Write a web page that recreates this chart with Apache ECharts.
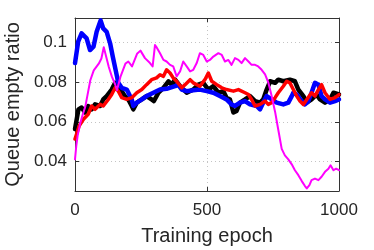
<!DOCTYPE html>
<html>
<head>
<meta charset="utf-8">
<script src="https://cdn.jsdelivr.net/npm/echarts@6/dist/echarts.min.js"></script>
<style>html,body{margin:0;padding:0;background:#fff}#c{width:374px;height:250px}</style>
</head>
<body>
<div id="c"></div>
<script>
// ---- data ----
const xTickLabels = [0, 500, 1000];
const yTickLabels = [0.04, 0.06, 0.08, 0.1];

const blackEpochs = [0,13,25,38,50,63,76,95,107,120,139,152,164,177,189,202,215,221,234,253,271,290,299,316,335,354,366,379,398,423,448,467,486,505,524,543,562,574,587,600,612,625,644,663,682,701,713,726,739,758,770,789,814,833,846,865,878,896,915,928,947,966,979,1000];
const blackValues = [0.0563,0.0663,0.0672,0.0647,0.0680,0.0663,0.0688,0.0680,0.0713,0.0730,0.0763,0.0797,0.0780,0.0755,0.0730,0.0713,0.0680,0.0663,0.0697,0.0713,0.0730,0.0713,0.0705,0.0747,0.0772,0.0805,0.0788,0.0813,0.0780,0.0747,0.0763,0.0788,0.0797,0.0763,0.0780,0.0747,0.0755,0.0722,0.0713,0.0647,0.0655,0.0697,0.0713,0.0730,0.0705,0.0697,0.0713,0.0763,0.0805,0.0797,0.0813,0.0805,0.0813,0.0805,0.0763,0.0730,0.0697,0.0713,0.0738,0.0713,0.0697,0.0713,0.0747,0.0738];

const blueEpochs = [0,12,25,44,57,70,82,97,107,120,133,143,155,164,177,196,215,221,234,253,271,297,322,347,379,391,404,423,448,473,499,524,549,574,593,606,625,644,663,688,701,713,726,745,764,789,808,821,827,840,859,871,884,896,909,922,934,947,966,985,1000];
const blueValues = [0.0897,0.1005,0.1047,0.1022,0.0963,0.0980,0.1055,0.1113,0.1072,0.1055,0.0997,0.0930,0.0855,0.0797,0.0772,0.0763,0.0713,0.0680,0.0697,0.0713,0.0730,0.0747,0.0763,0.0767,0.0780,0.0788,0.0763,0.0755,0.0760,0.0763,0.0755,0.0747,0.0730,0.0713,0.0688,0.0680,0.0697,0.0705,0.0688,0.0680,0.0663,0.0697,0.0730,0.0713,0.0697,0.0688,0.0697,0.0730,0.0747,0.0738,0.0705,0.0688,0.0705,0.0747,0.0797,0.0788,0.0730,0.0713,0.0697,0.0705,0.0713];

const redEpochs = [0,16,32,50,63,76,95,107,126,139,152,164,177,196,215,234,253,271,290,309,322,335,347,360,372,385,404,417,436,448,473,492,505,518,537,556,574,600,619,644,657,669,682,701,720,732,745,758,770,789,802,814,827,840,852,865,878,896,909,922,934,947,966,985,1000];
const redValues = [0.0513,0.0580,0.0613,0.0638,0.0680,0.0663,0.0688,0.0680,0.0713,0.0738,0.0772,0.0755,0.0722,0.0713,0.0722,0.0747,0.0763,0.0788,0.0813,0.0822,0.0838,0.0830,0.0863,0.0847,0.0822,0.0805,0.0772,0.0788,0.0813,0.0797,0.0780,0.0813,0.0847,0.0805,0.0788,0.0772,0.0763,0.0755,0.0763,0.0747,0.0738,0.0713,0.0680,0.0688,0.0705,0.0688,0.0697,0.0722,0.0747,0.0780,0.0805,0.0797,0.0763,0.0730,0.0705,0.0688,0.0713,0.0747,0.0730,0.0763,0.0788,0.0747,0.0713,0.0722,0.0738];

const magentaEpochs = [0,5,10,20,30,39,48,58,71,90,100,109,115,128,140,152,159,172,191,202,216,235,248,265,284,294,303,310,322,335,347,360,372,385,398,410,423,436,448,461,473,486,499,511,524,543,556,568,581,593,606,619,631,644,657,669,682,694,707,720,732,745,758,770,783,795,808,821,833,846,859,871,878,888,896,909,922,934,947,960,968,979,989,1000];
const magentaValues = [0.0410,0.0480,0.0530,0.0594,0.0640,0.0677,0.0740,0.0810,0.0860,0.0894,0.0920,0.0977,0.0985,0.0877,0.0827,0.0790,0.0760,0.0827,0.0894,0.0905,0.0880,0.0944,0.0960,0.0922,0.0897,0.0880,0.0988,0.0975,0.0947,0.0913,0.0905,0.0888,0.0880,0.0830,0.0855,0.0905,0.0880,0.0855,0.0863,0.0897,0.0947,0.0938,0.0905,0.0913,0.0930,0.0947,0.0938,0.0905,0.0913,0.0888,0.0922,0.0913,0.0897,0.0922,0.0905,0.0888,0.0888,0.0880,0.0863,0.0840,0.0800,0.0730,0.0650,0.0560,0.0463,0.0430,0.0410,0.0385,0.0355,0.0330,0.0300,0.0275,0.0263,0.0280,0.0305,0.0313,0.0305,0.0322,0.0347,0.0363,0.0380,0.0355,0.0363,0.0355];

function zip(xs, ys) { return xs.map((x, i) => [x, ys[i]]); }

const axisColor = '#333';
const textColor = '#262626';
const font = 'Liberation Sans, Arial, Helvetica, sans-serif';

const chart = echarts.init(document.getElementById('c'), null, { renderer: 'canvas' });

function lineSeries(name, xs, ys, color, width) {
  return {
    name, type: 'line', data: zip(xs, ys), showSymbol: false, symbol: 'none',
    smooth: false, animation: false,
    lineStyle: { color, width, cap: 'round', join: 'round' },
    clip: true
  };
}

chart.setOption({
  animation: false,
  backgroundColor: '#fff',
  grid: { left: 75, right: 35, top: 18, bottom: 59, containLabel: false, outerBoundsMode: 'none' },
  xAxis: [{
    type: 'value', min: 0, max: 1000, interval: 100, position: 'bottom',
    name: 'Training epoch', nameLocation: 'middle', nameGap: 35,
    nameTextStyle: { fontSize: 20, color: textColor, fontFamily: font },
    axisLine: { show: true, onZero: false, lineStyle: { color: axisColor, width: 1 } },
    axisTick: { show: true, inside: true, length: 4, customValues: xTickLabels, lineStyle: { color: axisColor } },
    axisLabel: { show: true, customValues: xTickLabels, formatter: v => String(v), margin: 11, fontSize: 17, color: textColor, fontFamily: font },
    splitLine: { show: true, lineStyle: { type: [1, 3], color: '#c4c4c4', width: 1 } }
  }, {
    type: 'value', min: 0, max: 1000, interval: 100, position: 'top',
    axisLine: { show: true, onZero: false, lineStyle: { color: axisColor, width: 1 } },
    axisTick: { show: true, inside: true, length: 4, customValues: xTickLabels, lineStyle: { color: axisColor } },
    axisLabel: { show: false }, splitLine: { show: false }
  }],
  yAxis: [{
    type: 'value', min: 0.025, max: 0.1125, interval: 0.005, position: 'left',
    name: 'Queue empty ratio', nameLocation: 'middle', nameGap: 50,
    nameTextStyle: { fontSize: 20, color: textColor, fontFamily: font },
    axisLine: { show: true, onZero: false, lineStyle: { color: axisColor, width: 1 } },
    axisTick: { show: true, inside: true, length: 4, customValues: yTickLabels, lineStyle: { color: axisColor } },
    axisLabel: { show: true, customValues: yTickLabels, formatter: v => String(v), margin: 8, fontSize: 17, color: textColor, fontFamily: font },
    splitLine: { show: true, lineStyle: { type: [1, 3], color: '#c4c4c4', width: 1 } }
  }, {
    type: 'value', min: 0.025, max: 0.1125, interval: 0.005, position: 'right',
    axisLine: { show: true, onZero: false, lineStyle: { color: axisColor, width: 1 } },
    axisTick: { show: true, inside: true, length: 4, customValues: yTickLabels, lineStyle: { color: axisColor } },
    axisLabel: { show: false }, splitLine: { show: false }
  }],
  series: [
    lineSeries('black', blackEpochs, blackValues, '#000000', 4.5),
    lineSeries('blue', blueEpochs, blueValues, '#0000ff', 4.5),
    lineSeries('red', redEpochs, redValues, '#ff0000', 3.5),
    lineSeries('magenta', magentaEpochs, magentaValues, '#ff00ff', 2)
  ]
});
</script>
</body>
</html>
